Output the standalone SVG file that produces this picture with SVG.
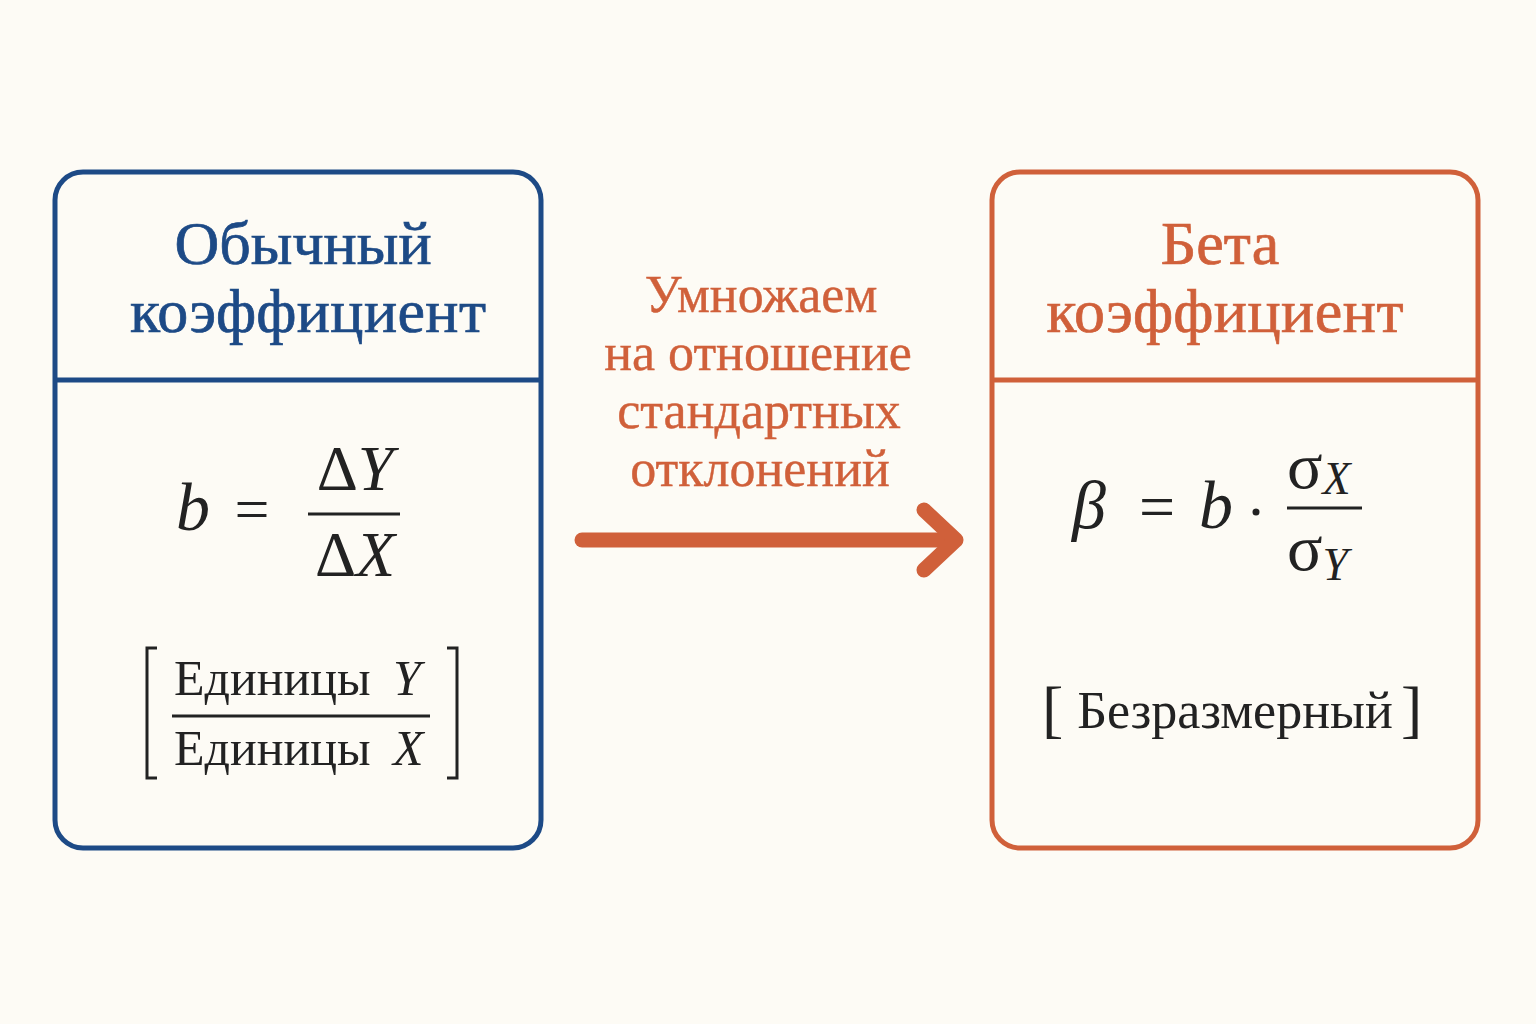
<svg xmlns="http://www.w3.org/2000/svg" width="1536" height="1024" viewBox="0 0 1536 1024">
<style>
.serif{font-family:"Liberation Serif","DejaVu Serif",serif;}
.blue{fill:#1d4a86;stroke:#1d4a86;stroke-width:0.7;}
.orange{fill:#d0603a;stroke:#d0603a;stroke-width:0.4;}
.ink{fill:#222;}
.box{fill:none;stroke-width:5;}
</style>
<rect width="1536" height="1024" fill="#fdfbf5"/>
<g id="node-ordinary">
<rect x="55" y="172" width="486" height="676" rx="28" class="box" stroke="#1d4a86"/>
<line x1="55" y1="380" x2="541" y2="380" stroke="#1d4a86" stroke-width="5"/>
<text x="303" y="264" text-anchor="middle" class="serif blue" font-size="62">Обычный</text>
<text x="308" y="332" text-anchor="middle" class="serif blue" font-size="62" textLength="356">коэффициент</text>
<text x="176" y="530" class="serif ink" font-size="68" font-style="italic">b</text>
<text x="252" y="530" text-anchor="middle" class="serif ink" font-size="62">=</text>
<text x="355" y="490" text-anchor="middle" class="serif ink" font-size="64">Δ<tspan font-style="italic">Y</tspan></text>
<line x1="308" y1="514" x2="400" y2="514" stroke="#222" stroke-width="3"/>
<text x="355" y="576" text-anchor="middle" class="serif ink" font-size="64">Δ<tspan font-style="italic">X</tspan></text>
<path d="M157 648 H147 V778 H157 M447 648 H457 V778 H447" fill="none" stroke="#222" stroke-width="3"/>
<text x="174" y="695" class="serif ink" font-size="50">Единицы <tspan font-style="italic" dx="10">Y</tspan></text>
<line x1="172" y1="716" x2="430" y2="716" stroke="#222" stroke-width="3"/>
<text x="174" y="765" class="serif ink" font-size="50">Единицы <tspan font-style="italic" dx="10">X</tspan></text>
</g>
<g id="node-beta">
<rect x="992" y="172" width="486" height="676" rx="28" class="box" stroke="#d0603a"/>
<line x1="992" y1="380" x2="1478" y2="380" stroke="#d0603a" stroke-width="5"/>
<text x="1220" y="264" text-anchor="middle" class="serif orange" font-size="62" style="stroke-width:0.7">Бета</text>
<text x="1225" y="332" text-anchor="middle" class="serif orange" font-size="62" textLength="357" style="stroke-width:0.7">коэффициент</text>
<text x="1072" y="528" class="serif ink" font-size="68" font-style="italic">β</text>
<text x="1157" y="528" text-anchor="middle" class="serif ink" font-size="64">=</text>
<text x="1199" y="528" class="serif ink" font-size="68" font-style="italic">b</text>
<circle cx="1256" cy="512" r="3.5" fill="#222"/>
<text x="1287" y="488" class="serif ink" font-size="66">σ<tspan font-size="46" font-style="italic" dy="6">X</tspan></text>
<line x1="1287" y1="508" x2="1362" y2="508" stroke="#222" stroke-width="3"/>
<text x="1287" y="570" class="serif ink" font-size="66">σ<tspan font-size="46" font-style="italic" dy="10">Y</tspan></text>
<text x="1042" y="730" class="serif ink" font-size="64">[</text>
<text x="1235" y="728" text-anchor="middle" class="serif ink" font-size="52">Безразмерный</text>
<text x="1401" y="730" class="serif ink" font-size="64">]</text>
</g>
<g id="connectors">
<line x1="582" y1="540" x2="950" y2="540" stroke="#d0603a" stroke-width="15" stroke-linecap="round"/>
<path d="M924 510 L956 540 L924 570" fill="none" stroke="#d0603a" stroke-width="15" stroke-linecap="round" stroke-linejoin="round"/>
<text class="serif orange" font-size="52" text-anchor="middle"><tspan x="761" y="312">Умножаем</tspan><tspan x="758" y="370">на отношение</tspan><tspan x="759" y="428">стандартных</tspan><tspan x="760" y="486">отклонений</tspan></text>
</g>
</svg>
